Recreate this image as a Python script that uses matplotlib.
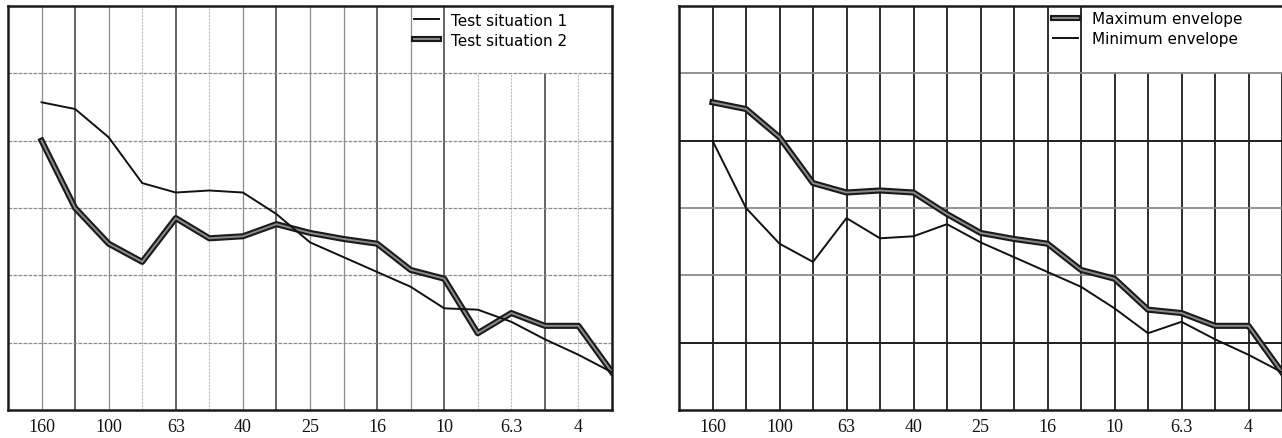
import numpy as np
import matplotlib
matplotlib.use("Agg")
import matplotlib.pyplot as plt
from matplotlib.lines import Line2D
import matplotlib.patheffects as pe

# One-third-octave band centres (high to low)
bands = [160, 125, 100, 80, 63, 50, 40, 31.5, 25, 20, 16, 12.5, 10, 8, 6.3, 5, 4, 3.15]
tick_labels = ["160", "100", "63", "40", "25", "16", "10", "6.3", "4"]
tick_bands = [160, 100, 63, 40, 25, 16, 10, 6.3, 4]

# Levels per band for the two test situations
situation_1 = [45.7, 44.7, 40.5, 33.7, 32.3, 32.6, 32.3, 29.1, 24.9, 22.7, 20.5,
               18.3, 15.1, 14.9, 13.1, 10.5, 8.2, 5.6]
situation_2 = [40.0, 30.0, 24.7, 22.0, 28.5, 25.5, 25.8, 27.6, 26.3, 25.4, 24.7,
               20.8, 19.5, 11.4, 14.4, 12.5, 12.5, 5.6]

max_envelope = np.maximum(situation_1, situation_2)
min_envelope = np.minimum(situation_1, situation_2)

x = np.arange(1, len(bands) + 1)
xticks = [x[bands.index(b)] for b in tick_bands]

W, H = 1282, 439
fig = plt.figure(figsize=(W / 100, H / 100), dpi=100)

DOUBLE = dict(color="#8a8a8a", lw=1.4, solid_joinstyle="round",
              path_effects=[pe.Stroke(linewidth=4.4, foreground="#1a1a1a"), pe.Normal()])
SINGLE = dict(color="#111111", lw=1.4, solid_joinstyle="round")


def px_axes(left, top, right, bottom):
    return fig.add_axes([left / W, 1 - bottom / H, (right - left) / W, (bottom - top) / H])


def setup(ax, xmax):
    ax.set_xlim(0, xmax)
    ax.set_ylim(0, 60)
    ax.set_xticks(xticks)
    ax.set_xticklabels(tick_labels, family="Liberation Serif", fontsize=13)
    ax.set_yticks([])
    ax.tick_params(axis="x", length=0, pad=6, colors="#111111")
    for s in ax.spines.values():
        s.set_linewidth(1.8)
        s.set_color("#1a1a1a")


double_handle = Line2D([], [], **DOUBLE)
single_handle = Line2D([], [], **SINGLE)
legend_kw = dict(loc="upper left", frameon=False, handlelength=1.65, labelspacing=0.32,
                 borderpad=0, borderaxespad=0, prop={"family": "DejaVu Sans", "size": 11})

# ---- Left panel: the two test situations ----
axl = px_axes(8, 7, 612, 411)
setup(axl, 18)
dark_l = {2, 5, 8, 11, 13, 16}
mid_l = {1, 3, 7, 9, 10, 12}
legend_col_l = 13
for i in range(1, 18):
    top = 60 if i <= legend_col_l else 50
    if i in dark_l:
        c, lw, ls = "#3a3a3a", 1.1, "-"
    elif i in mid_l:
        c, lw, ls = "#8c8c8c", 0.9, "-"
    else:
        c, lw, ls = "#bdbdbd", 0.8, (0, (2, 1))
    axl.vlines(i, 0, top, colors=c, lw=lw, linestyles=ls, zorder=1)
for j in range(10, 60, 10):
    axl.hlines(j, 0, 18, colors="#8c8c8c", lw=0.9, linestyles=(0, (3, 1)), zorder=1)

axl.plot(x, situation_1, zorder=6, **SINGLE)
axl.plot(x, situation_2, zorder=5, **DOUBLE)

axl.legend([single_handle, double_handle], ["Test situation 1", "Test situation 2"],
           bbox_to_anchor=(12.1, 59.0), bbox_transform=axl.transData,
           handletextpad=0.75, **legend_kw)

# ---- Right panel: envelopes ----
axr = px_axes(679, 7, 1285, 411)
setup(axr, 18 * 606 / 603)
axr.spines["right"].set_visible(False)
legend_col_r = 12
for i in range(1, 19):
    top = 60 if i <= legend_col_r else 50
    axr.vlines(i, 0, top, colors="#1e1e1e", lw=1.3, zorder=1)
for j in range(10, 60, 10):
    strong = j in (10, 40)
    axr.hlines(j, 0, 19, colors="#1e1e1e" if strong else "#8a8a8a",
               lw=1.4 if strong else 1.3, zorder=1)

axr.plot(x, min_envelope, zorder=6, **SINGLE)
axr.plot(x, max_envelope, zorder=5, **DOUBLE)

axr.legend([double_handle, single_handle], ["Maximum envelope", "Minimum envelope"],
           bbox_to_anchor=(11.15, 59.2), bbox_transform=axr.transData,
           handletextpad=0.95, **legend_kw)

fig.savefig("out.png", dpi=100)
